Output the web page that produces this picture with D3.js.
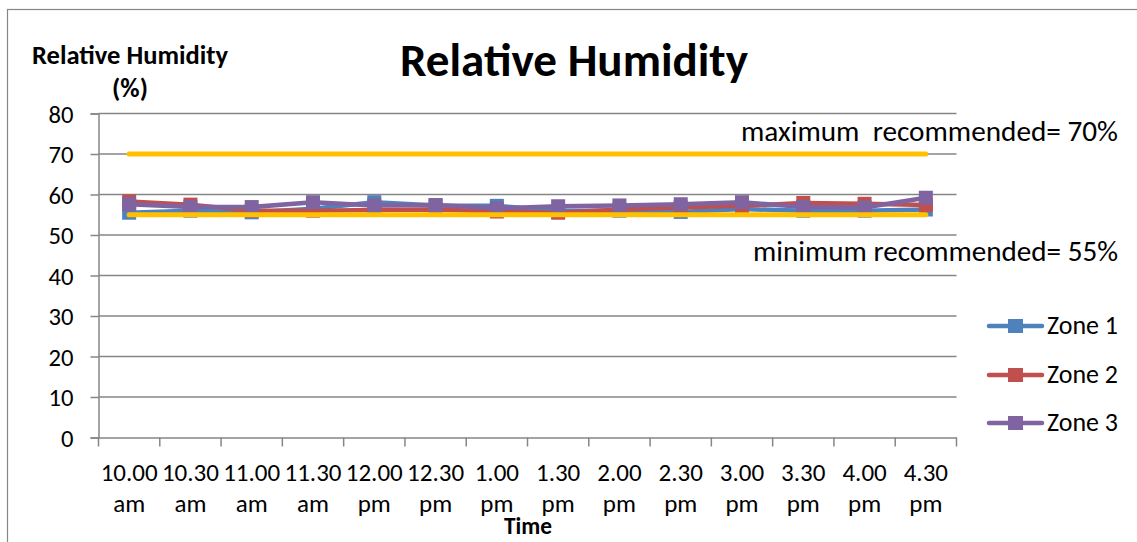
<!DOCTYPE html>
<html><head><meta charset="utf-8">
<script src="https://cdn.jsdelivr.net/npm/d3@7"></script>
<style>
body{margin:0;background:#fff;}
svg{display:block;font-family:Carlito,Calibri,Lato,"Noto Sans",sans-serif;}
</style></head>
<body><svg id="c" width="1137" height="542"></svg>
<script>
const categories = ["10.00 am","10.30 am","11.00 am","11.30 am","12.00 pm","12.30 pm","1.00 pm","1.30 pm","2.00 pm","2.30 pm","3.00 pm","3.30 pm","4.00 pm","4.30 pm"];
const zone1 = [55.5,56.0,55.6,56.5,58.1,57.3,57.2,56.0,56.0,55.7,56.4,56.0,56.0,56.3];
const zone2 = [58.3,57.5,56.0,56.0,56.2,56.3,55.8,55.5,56.3,56.8,57.2,57.9,57.7,57.4];
const zone3 = [57.6,56.9,56.9,58.1,57.3,57.4,56.6,57.1,57.3,57.6,58.1,56.9,56.8,59.2];
const maxRecommended = 70;
const minRecommended = 55;
const yTicks = [0,10,20,30,40,50,60,70,80];
const seriesNames = ["Zone 1","Zone 2","Zone 3"];
const colors = ["#4F81BD","#C0504D","#8064A2"];
const refColor = "#FFC000";

(function(){
const svg = d3.select("#c");
const W = 1137, H = 542;
const pL = 98.5, pR = 956.5, pT = 113.5, pB = 437.5;

function sizeFor(txt, nominal, target, bold){
  const t = svg.append("text").attr("font-size",nominal).attr("font-weight",bold?"bold":null).text(txt);
  const w = t.node().getComputedTextLength();
  t.remove();
  return nominal*target/w;
}
function fit(sel, target){
  sel.each(function(){
    const n = d3.select(this);
    const fs = parseFloat(n.attr("font-size"));
    const w = this.getComputedTextLength();
    n.attr("font-size", (fs*target/w).toFixed(2));
  });
}

// chart border
svg.append("rect").attr("x",7.5).attr("y",9.5).attr("width",W+20).attr("height",H+20)
  .attr("fill","none").attr("stroke","#868686").attr("stroke-width",1.2);

const x = d3.scaleBand().domain(categories).range([pL,pR]);
const y = d3.scaleLinear().domain([0,80]).range([pB,pT]);
const cx = d => x(d)+x.bandwidth()/2;

// gridlines
svg.append("g").selectAll("line").data(yTicks.filter(t=>t>0)).join("line")
  .attr("x1",pL).attr("x2",pR).attr("y1",d=>y(d)).attr("y2",d=>y(d))
  .attr("stroke","#868686").attr("stroke-width",1.5);

// y axis
const yfs = sizeFor("80",22,25,false);
const ya = svg.append("g").attr("transform",`translate(${pL},0)`)
  .call(d3.axisLeft(y).tickValues(yTicks).tickSize(8).tickPadding(6));
ya.select(".domain").attr("stroke","#868686").attr("stroke-width",1.5);
ya.selectAll(".tick line").attr("stroke","#868686").attr("stroke-width",1.5);
ya.attr("font-family",null).attr("font-size",null);
ya.selectAll(".tick text").attr("font-size",yfs).attr("fill","#000")
  .attr("x",-25).attr("dy","0.36em");

// x axis
const xa = svg.append("g").attr("transform",`translate(0,${pB})`)
  .call(d3.axisBottom(x).tickSize(0).tickFormat(""));
xa.select(".domain").attr("stroke","#868686").attr("stroke-width",1.5);
xa.selectAll(".tick").remove();
const edges = categories.map(c=>x(c)).concat([pR]);
xa.selectAll("line.edge").data(edges).join("line").attr("class","edge")
  .attr("x1",d=>d).attr("x2",d=>d).attr("y1",0).attr("y2",9)
  .attr("stroke","#868686").attr("stroke-width",1.5);
const xfs = sizeFor("10.00",22,57,false);
const xl = svg.append("g").selectAll("text").data(categories).join("text")
  .attr("x",d=>cx(d)).attr("y",481).attr("text-anchor","middle").attr("font-size",xfs);
xl.append("tspan").attr("x",d=>cx(d)).text(d=>d.split(" ")[0]);
xl.append("tspan").attr("x",d=>cx(d)).attr("dy",31).text(d=>d.split(" ")[1]);

// series
const series = [zone1,zone2,zone3];
const line = d3.line().x((d,i)=>cx(categories[i])).y(d=>y(d));
series.forEach((s,k)=>{
  const g = svg.append("g");
  g.append("path").datum(s).attr("d",line).attr("fill","none")
    .attr("stroke",colors[k]).attr("stroke-width",4.5).attr("stroke-linejoin","round");
  g.selectAll("rect").data(s).join("rect")
    .attr("x",(d,i)=>cx(categories[i])-7).attr("y",d=>y(d)-7)
    .attr("width",14).attr("height",14).attr("fill",colors[k]);
});

// reference lines
[maxRecommended,minRecommended].forEach(v=>{
  svg.append("path").datum(categories.map(()=>v)).attr("d",line)
    .attr("fill","none").attr("stroke",refColor).attr("stroke-width",5).attr("stroke-linecap","round");
});

// annotations
svg.append("text").attr("x",1118).attr("y",141).attr("text-anchor","end").attr("font-size",22)
  .style("white-space","pre").text("maximum  recommended= 70%").call(fit,377);
svg.append("text").attr("x",1118).attr("y",261).attr("text-anchor","end").attr("font-size",22)
  .text("minimum recommended= 55%").call(fit,365);

// titles
svg.append("text").attr("x",574).attr("y",76).attr("text-anchor","middle").attr("font-weight","bold")
  .attr("font-size",36).text("Relative Humidity").call(fit,348);
const ytfs = sizeFor("Relative Humidity",20,196,true);
svg.append("text").attr("x",130).attr("y",64).attr("text-anchor","middle").attr("font-weight","bold")
  .attr("font-size",ytfs).text("Relative Humidity");
svg.append("text").attr("x",130).attr("y",97).attr("text-anchor","middle").attr("font-weight","bold")
  .attr("font-size",ytfs).text("(%)");
svg.append("text").attr("x",528).attr("y",534).attr("text-anchor","middle").attr("font-weight","bold")
  .attr("font-size",20).text("Time").call(fit,48);

// legend
const lg = svg.append("g");
const ly = [326,375,423];
seriesNames.forEach((n,k)=>{
  lg.append("line").attr("x1",989).attr("x2",1042).attr("y1",ly[k]).attr("y2",ly[k])
    .attr("stroke",colors[k]).attr("stroke-width",4.5).attr("stroke-linecap","round");
  lg.append("rect").attr("x",1008).attr("y",ly[k]-7).attr("width",15).attr("height",14).attr("fill",colors[k]);
  lg.append("text").attr("x",1047).attr("y",ly[k]+8).attr("font-size",22).text(n).call(fit,71);
});
})();
</script></body></html>
